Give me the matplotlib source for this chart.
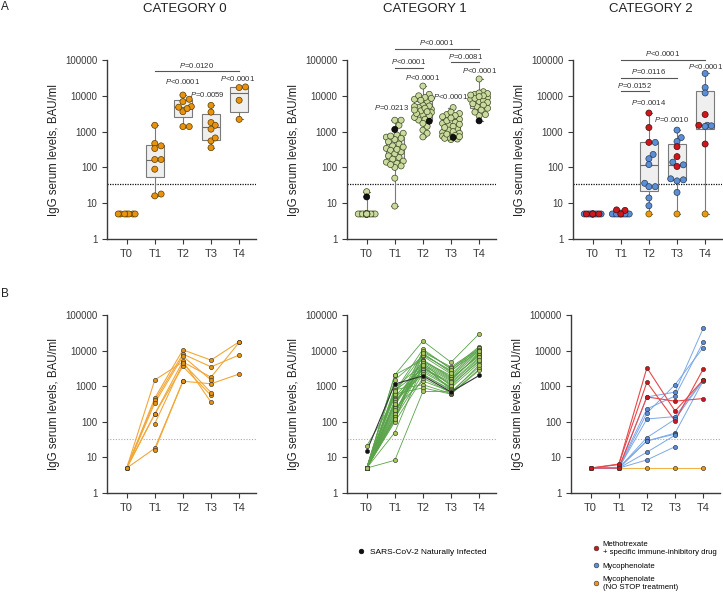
import matplotlib
matplotlib.use("Agg")
import matplotlib.pyplot as plt
from matplotlib.lines import Line2D
import numpy as np

plt.rcParams['font.family'] = ['Liberation Sans', 'DejaVu Sans']
plt.rcParams['mathtext.fontset'] = 'custom'
plt.rcParams['mathtext.rm'] = 'Liberation Sans'
plt.rcParams['mathtext.it'] = 'Liberation Sans:italic'

nan = np.nan
timepoints = ['T0', 'T1', 'T2', 'T3', 'T4']
titles = ['CATEGORY 0', 'CATEGORY 1', 'CATEGORY 2']
ytick_vals = [1, 10, 100, 1000, 10000, 100000]
ytick_labels = ['1', '10', '100', '1000', '10000', '100000']
threshold = 33.8

# category 0 - one row per patient, columns T0..T4
cat0_t0 = [5, 5, 5, 5, 5, 5, nan, 5, nan]
cat0_t1 = [1500, 465, 400, 337, 166, 166, 89, 18, 16]
cat0_t2 = [4800, 10500, 8000, 6900, 3600, 5000, 4400, 1380, 1380]
cat0_t3 = [1790, 5400, 3500, 1500, 550, 355, 665, 1170, nan]
cat0_t4 = [17000, 17700, 7500, nan, nan, nan, nan, 2200, nan]
cat0_group = ['o'] * 9

# category 1 (index 3 = naturally infected)
cat1_t0 = [5, 5, 5, 15, 5, 5, 5, 5, 5, 5, 21, 5, 5, 5, 5,
           5, 5, 5, 5, 5, 5, 5, 5, 5, 5, 5, 5, 5, 5, 5]
cat1_t1 = [2080, 900, 1500, 1150, 700, 2080, 520, 800, 650, 340, 450, 600, 750, 270, 400,
           190, 370, 300, 150, 240, 320, 130, 210, 110, 170, 100, 140, 120, 50, 8.3]
cat1_t2 = [18700, 4200, 7000, 1950, 11000, 5500, 3400, 1100, 8000, 5200, 2800, 900, 3000, 9000, 2100,
           4700, 2500, 3800, 10000, 1400, 5000, 2200, 3200, 7500, 4500, 1700, 3600, 8500, 4000, 710]
cat1_t3 = [4700, 1500, 2200, 690, 3000, 1800, 1100, 620, 2600, 1700, 950, 600, 1200, 3500, 800,
           1600, 900, 1400, 3200, 700, 2000, 750, 1300, 2800, 1000, 650, 850, 2400, 780, 720]
cat1_t4 = [29500, 8000, 11000, 2000, 13000, 9000, 5000, 3000, 12000, 7000, nan, 2800, 6000, 11500, nan,
           7500, 4500, 8500, 10500, 3500, 10000, nan, 6500, 9500, 5500, 4000, nan, nan, nan, nan]
cat1_group = ['g'] * 3 + ['k'] + ['g'] * 26

# category 2: r = methotrexate, b = mycophenolate, y = mycophenolate no stop
cat2_t0 = [5, 5, 5, 5, 5, 5, 5, 5, 5, 5, 5, 5, 5]
cat2_t1 = [6.3, 6.5, 5, 5, 5.3, 5, 5, 5, 5, 5, 5, 5, 5]
cat2_t2 = [3300, 1300, 500, 500, 230, 175, 120, 36, 29, 29, 14, 8.5, 5]
cat2_t3 = [200, 106, 380, 680, 530, 1100, 140, 118, 48, 45, 42, 20, 5]
cat2_t4 = [1500, 3000, 450, 42000, 17000, 12000, 1500, 1450, 1400, nan, nan, nan, 5]
cat2_group = ['r', 'r', 'r', 'b', 'b', 'b', 'b', 'b', 'b', 'b', 'b', 'b', 'y']

# p-value annotations: (x1, x2 or None, log10 height, label)
cat0_p = [(1, 4, 4.69, '=0.0120'), (2, None, 4.39, '<0.0001'),
          (2.88, None, 4.05, '=0.0059'), (3.95, None, 4.47, '<0.0001')]
cat1_p = [(1, 4, 5.31, '<0.0001'), (1, 2, 4.78, '<0.0001'), (3, 4, 4.94, '=0.0081'),
          (0.9, None, 3.66, '=0.0213'), (2, None, 4.50, '<0.0001'),
          (3, None, 3.97, '<0.0001'), (4, None, 4.72, '<0.0001')]
cat2_p = [(1, 4, 5.0, '<0.0001'), (1, 3, 4.5, '=0.0116'), (1, 2, 4.13, '=0.0152'),
          (2, None, 3.80, '=0.0014'), (2.8, None, 3.35, '=0.0010'), (4, None, 4.83, '<0.0001')]

cats = [
    ([cat0_t0, cat0_t1, cat0_t2, cat0_t3, cat0_t4], cat0_group, cat0_p),
    ([cat1_t0, cat1_t1, cat1_t2, cat1_t3, cat1_t4], cat1_group, cat1_p),
    ([cat2_t0, cat2_t1, cat2_t2, cat2_t3, cat2_t4], cat2_group, cat2_p),
]

fillA = {'o': '#E8920E', 'g': '#CBDA9F', 'k': '#111111', 'r': '#D0151B', 'b': '#5A8ED6', 'y': '#E89A17'}
edgeA = {'o': '#5C3B00', 'g': '#3C4A22', 'k': '#000000', 'r': '#3a1010', 'b': '#2a3a55', 'y': '#6a4a00'}
fillB = {'o': '#E8920E', 'g': '#A9C95C', 'k': '#111111', 'r': '#D0151B', 'b': '#5A8ED6', 'y': '#E89A17'}
lineB = {'o': '#F2A73A', 'g': '#5AA34A', 'k': '#333333', 'r': '#E8474A', 'b': '#7CA8E8', 'y': '#F2B24A'}
lwB = {'o': 0.8, 'g': 0.6, 'k': 0.8, 'r': 0.8, 'b': 0.7, 'y': 0.8}
zline = {'y': 1.0, 'b': 1.2, 'g': 1.2, 'o': 1.2, 'r': 1.4, 'k': 1.5}

dark = '#3a3a3a'


def swarm(vals, step=0.075, cap=0.3, dpx=5.0, xpx=28.1, ypx=35.8):
    order = np.argsort(vals, kind='stable')
    cands = [0.0]
    for k in range(1, int(round(cap / step)) + 1):
        cands += [k * step, -k * step]
    placed = []
    offs = np.zeros(len(vals))
    for i in order:
        y = np.log10(vals[i]) * ypx
        best, bestd = 0.0, -1.0
        for c in cands:
            d = min([np.hypot((c - px) * xpx, y - py) for px, py in placed] or [99.0])
            if d >= dpx:
                best = c
                break
            if d > bestd:
                bestd, best = d, c
        offs[i] = best
        placed.append((best, y))
    return offs


def style(ax, ylabel_x):
    ax.set_yscale('log')
    ax.set_ylim(1, 100000)
    ax.set_xlim(-0.7, 4.6)
    ax.set_yticks(ytick_vals)
    ax.set_yticklabels(ytick_labels)
    ax.minorticks_off()
    ax.set_xticks(range(5))
    ax.set_xticklabels(timepoints)
    for s in ['top', 'right']:
        ax.spines[s].set_visible(False)
    for s in ['left', 'bottom']:
        ax.spines[s].set_color(dark)
        ax.spines[s].set_linewidth(1.0)
    ax.tick_params(axis='y', labelsize=7, colors=dark, length=3.5, width=0.8)
    ax.tick_params(axis='x', labelsize=8, colors=dark, length=3.5, width=0.8, pad=4)
    ax.set_ylabel('IgG serum levels, BAU/ml', fontsize=8.3, color='#222')
    ax.yaxis.set_label_coords(ylabel_x, 0.5)


fig = plt.figure(figsize=(7.23, 6.02), dpi=100)
lefts = [107 / 723, 347 / 723, 573 / 723]
w = 149 / 723

for ci, (series, groups, pvals) in enumerate(cats):
    # ---------- panel A : box + scatter
    ax = fig.add_axes([lefts[ci], 1 - 239 / 602, w, 179 / 602])
    style(ax, -0.315)
    ax.axhline(threshold, color='#111', lw=0.9, ls=(0, (1, 1)), zorder=1)
    for ti, vals in enumerate(series):
        v = np.array(vals, dtype=float)
        g = np.array(groups)
        m = ~np.isnan(v)
        v, g = v[m], g[m]
        q1, med, q3 = np.percentile(v, [25, 50, 75], method='weibull')
        st = [{'med': med, 'q1': q1, 'q3': q3, 'whislo': v.min(), 'whishi': v.max(), 'fliers': []}]
        ax.bxp(st, positions=[ti], widths=0.62, patch_artist=True, showfliers=False,
               boxprops=dict(facecolor='#EFEFEF', edgecolor='#7a7a7a', lw=0.8),
               medianprops=dict(color='#6a6a6a', lw=0.8),
               whiskerprops=dict(color='#7a7a7a', lw=0.8),
               capprops=dict(color='#7a7a7a', lw=0.8), capwidths=0.24, manage_ticks=False)
        offs = swarm(v)
        # plain points first, special ones on top
        order = np.argsort([zline[x] for x in g], kind='stable')
        ax.scatter(ti + offs[order], v[order], s=19,
                   c=[fillA[x] for x in g[order]], edgecolors=[edgeA[x] for x in g[order]],
                   linewidths=0.5, zorder=3)
    for x1, x2, ly, lab in pvals:
        yv = 10 ** ly
        if x2 is None:
            ax.text(x1, yv, r'$P$' + lab, fontsize=5.6, color='#333', ha='center', va='center',
                    clip_on=False)
        else:
            ax.plot([x1, x2], [yv, yv], color='#555', lw=0.8, clip_on=False)
            ax.text((x1 + x2) / 2, 10 ** (ly + 0.17), r'$P$' + lab, fontsize=5.6, color='#333',
                    ha='center', va='center', clip_on=False)
    fig.text(lefts[ci] + w / 2 + 0.004, 1 - 9 / 602, titles[ci], fontsize=9.5, color='#222',
             ha='center', va='center')

    # ---------- panel B : trajectories
    axb = fig.add_axes([lefts[ci] - (2 / 723 if ci == 2 else 0), 1 - 493 / 602, w, 178 / 602])
    style(axb, -0.315)
    axb.axhline(threshold, color='#aaaaaa', lw=0.8, ls=(0, (1, 1.5)), zorder=0.5)
    data = np.array(series, dtype=float).T
    for pi in np.argsort([zline[x] for x in groups], kind='stable'):
        row = data[pi]
        m = ~np.isnan(row)
        xs = np.arange(5)[m]
        gk = groups[pi]
        axb.plot(xs, row[m], color=lineB[gk], lw=lwB[gk], zorder=zline[gk])
    for pi in np.argsort([zline[x] for x in groups], kind='stable'):
        row = data[pi]
        m = ~np.isnan(row)
        xs = np.arange(5)[m]
        gk = groups[pi]
        axb.scatter(xs, row[m], s=9, c=fillB[gk], edgecolors='#333', linewidths=0.45,
                    zorder=3 + zline[gk])

fig.text(5 / 723, 1 - 7 / 602, 'A', fontsize=8.5, color='#222', ha='center', va='center')
fig.text(5 / 723, 1 - 294 / 602, 'B', fontsize=8.5, color='#222', ha='center', va='center')

# legends
h1 = [Line2D([], [], marker='o', ls='', ms=3.4, mfc='#111', mec='#000', mew=0.4)]
fig.legend(h1, ['SARS-CoV-2 Naturally Infected'], loc='center left',
           bbox_to_anchor=(358 / 723, 1 - 552 / 602), frameon=False, fontsize=6,
           handlelength=0.8, handletextpad=0.6, borderaxespad=0, borderpad=0)

h2 = [Line2D([], [], marker='o', ls='', ms=3.4, mfc=fillB[k], mec='#333', mew=0.4) for k in ['r', 'b', 'y']]
fig.legend(h2, ['Methotrexate\n+ specific immune-inhibitory drug', 'Mycophenolate',
                'Mycophenolate\n(NO STOP treatment)'],
           loc='upper left', bbox_to_anchor=(593 / 723, 1 - 541 / 602), frameon=False,
           fontsize=5.6, handlelength=0.7, handletextpad=0.55, labelspacing=0.8,
           borderaxespad=0, borderpad=0)

fig.savefig('out.png', dpi=100)
